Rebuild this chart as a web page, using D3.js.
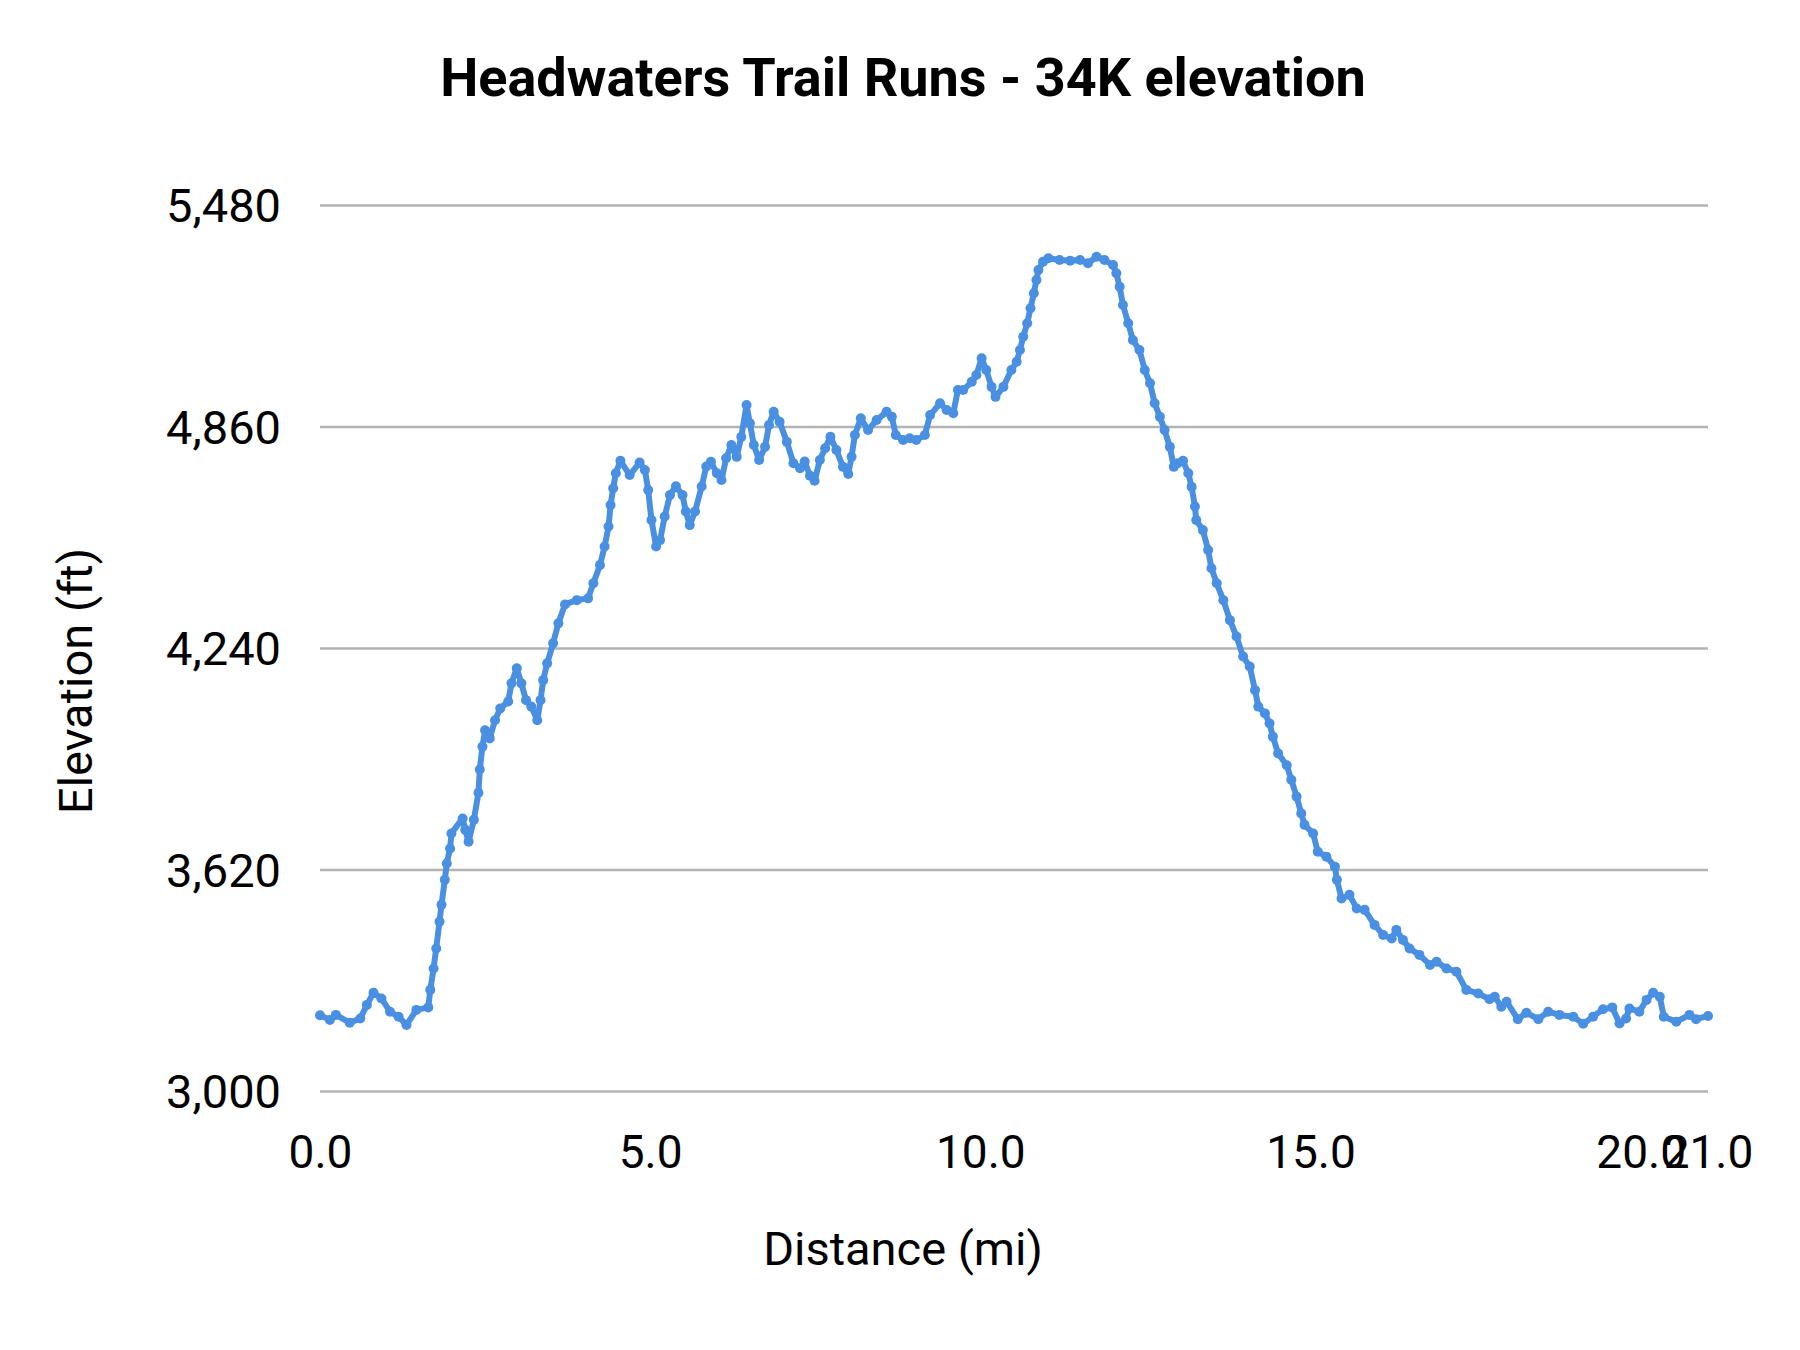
<!DOCTYPE html>
<html>
  <head>
    <meta charset="utf-8">
    <style>
      body { margin: 0; background: #fff; }
      text { font-family: Roboto, "Noto Sans", sans-serif; }
    </style>
  </head>
  <body>
    <div id="my_dataviz"></div>
  </body>
</html>

<script src="https://d3js.org/d3.v7.min.js"></script>

<script>
// distance along the course (mi)
var distances = [
  0.00, 0.15, 0.24, 0.45, 0.61, 0.71, 0.81, 0.93, 1.06, 1.19, 1.31, 1.46, 1.64, 1.67, 1.72, 1.76,
  1.81, 1.84, 1.89, 1.92, 1.97, 1.99, 2.16, 2.20, 2.25, 2.33, 2.40, 2.42, 2.46, 2.50, 2.57, 2.65,
  2.73, 2.85, 2.90, 2.98, 3.05, 3.12, 3.20, 3.29, 3.34, 3.38, 3.44, 3.53, 3.61, 3.71, 3.89, 4.06,
  4.14, 4.24, 4.31, 4.37, 4.40, 4.44, 4.48, 4.55, 4.69, 4.84, 4.92, 4.97, 5.02, 5.09, 5.15, 5.22,
  5.30, 5.39, 5.49, 5.54, 5.60, 5.68, 5.78, 5.85, 5.92, 6.01, 6.08, 6.15, 6.23, 6.31, 6.38, 6.46,
  6.51, 6.57, 6.65, 6.74, 6.80, 6.87, 6.96, 7.07, 7.17, 7.27, 7.34, 7.42, 7.49, 7.57, 7.65, 7.73,
  7.82, 7.92, 8.00, 8.05, 8.10, 8.19, 8.30, 8.43, 8.58, 8.66, 8.72, 8.83, 8.93, 9.03, 9.16, 9.24,
  9.39, 9.49, 9.59, 9.66, 9.74, 9.87, 9.94, 10.02, 10.09, 10.17, 10.23, 10.35, 10.47, 10.55, 10.60, 10.65,
  10.71, 10.76, 10.81, 10.85, 10.88, 10.95, 11.03, 11.20, 11.36, 11.51, 11.63, 11.76, 11.88, 12.01, 12.06, 12.11,
  12.16, 12.24, 12.31, 12.41, 12.49, 12.57, 12.64, 12.72, 12.79, 12.87, 12.93, 12.99, 13.07, 13.15, 13.20, 13.25,
  13.27, 13.37, 13.45, 13.50, 13.58, 13.68, 13.78, 13.88, 13.98, 14.08, 14.16, 14.21, 14.31, 14.38, 14.43, 14.51,
  14.64, 14.71, 14.79, 14.86, 14.91, 15.04, 15.11, 15.24, 15.37, 15.40, 15.47, 15.59, 15.70, 15.82, 15.97, 16.10,
  16.23, 16.30, 16.40, 16.50, 16.65, 16.81, 16.91, 17.06, 17.21, 17.36, 17.54, 17.71, 17.79, 17.89, 17.97, 18.14,
  18.27, 18.45, 18.60, 18.77, 18.98, 19.13, 19.28, 19.43, 19.57, 19.68, 19.78, 19.83, 19.98, 20.09, 20.19, 20.29,
  20.35, 20.54, 20.74, 20.84, 21.02
];

// elevation at each distance (ft)
var elevations = [
  3212, 3199, 3213, 3191, 3203, 3241, 3275, 3259, 3222, 3208, 3185, 3227, 3234, 3283, 3343, 3399,
  3474, 3521, 3591, 3637, 3679, 3721, 3763, 3731, 3698, 3759, 3835, 3900, 3964, 4010, 3987, 4038,
  4071, 4090, 4141, 4183, 4141, 4094, 4076, 4038, 4094, 4150, 4197, 4253, 4309, 4362, 4374, 4379,
  4421, 4472, 4524, 4580, 4640, 4687, 4729, 4764, 4724, 4759, 4738, 4682, 4598, 4524, 4542, 4608,
  4668, 4693, 4668, 4622, 4584, 4622, 4692, 4748, 4761, 4729, 4710, 4771, 4808, 4775, 4831, 4920,
  4869, 4808, 4766, 4803, 4864, 4901, 4873, 4817, 4757, 4743, 4762, 4722, 4708, 4766, 4799, 4831,
  4794, 4747, 4727, 4775, 4836, 4883, 4850, 4878, 4901, 4887, 4836, 4822, 4827, 4822, 4836, 4892,
  4925, 4906, 4897, 4962, 4962, 4985, 5004, 5051, 5018, 4971, 4943, 4971, 5018, 5041, 5074, 5111,
  5149, 5191, 5233, 5270, 5298, 5321, 5331, 5326, 5324, 5326, 5317, 5335, 5326, 5312, 5289, 5251,
  5200, 5149, 5102, 5074, 5018, 4981, 4925, 4887, 4850, 4803, 4747, 4757, 4764, 4729, 4691, 4636,
  4598, 4570, 4514, 4463, 4421, 4374, 4318, 4272, 4216, 4188, 4122, 4076, 4057, 4029, 3992, 3945,
  3912, 3871, 3824, 3777, 3745, 3721, 3670, 3656, 3628, 3591, 3539, 3549, 3511, 3507, 3465, 3437,
  3427, 3451, 3423, 3399, 3381, 3353, 3362, 3343, 3334, 3283, 3273, 3257, 3264, 3236, 3250, 3201,
  3219, 3201, 3222, 3213, 3208, 3188, 3208, 3229, 3234, 3189, 3203, 3231, 3222, 3255, 3275, 3264,
  3208, 3194, 3213, 3201, 3210
];

var xTicks = [0, 5, 10, 15, 20, 21.02];
var yTicks = [3000, 3620, 4240, 4860, 5480];

var chartTitle = "Headwaters Trail Runs - 34K elevation";
var xTitle = "Distance (mi)";
var yTitle = "Elevation (ft)";

// dimensions
var W = 1800, H = 1350;
var margin = {top: 205, right: 92, bottom: 259, left: 320},
    width = W - margin.left - margin.right,
    height = H - margin.top - margin.bottom;

var data = distances.map(function(d, i) { return {mi: d, ft: elevations[i]}; });

var root = d3.select("#my_dataviz")
  .append("svg")
    .attr("width", W)
    .attr("height", H);

root.append("rect").attr("width", W).attr("height", H).attr("fill", "#fff");

var svg = root.append("g")
    .attr("transform", "translate(" + margin.left + "," + margin.top + ")");

var x = d3.scaleLinear()
  .domain([0, 21.02])
  .range([0, width]);

var y = d3.scaleLinear()
  .domain([3000, 5480])
  .range([height, 0]);

// gridlines + y labels
var yAxis = svg.append("g")
  .call(d3.axisLeft(y).tickValues(yTicks).tickSize(-width).tickPadding(39).tickFormat(d3.format(",")));
yAxis.select(".domain").remove();
yAxis.selectAll("line").attr("stroke", "#b3b3b3").attr("stroke-width", 2.5);
yAxis.selectAll("text")
  .attr("fill", "#000")
  .style("font-size", "47px")
  .attr("dy", "0.36em");

// x labels
var xAxis = svg.append("g")
  .attr("transform", "translate(0," + height + ")")
  .call(d3.axisBottom(x).tickValues(xTicks).tickSize(0).tickPadding(44).tickFormat(d3.format(".1f")));
xAxis.select(".domain").remove();
xAxis.selectAll("text")
  .attr("fill", "#000")
  .style("font-size", "46px");

// elevation line
svg.append("path")
  .datum(data)
  .attr("fill", "none")
  .attr("stroke", "#4a90e2")
  .attr("stroke-width", 6)
  .attr("stroke-linejoin", "round")
  .attr("d", d3.line()
    .x(function(d) { return x(d.mi); })
    .y(function(d) { return y(d.ft); }));

svg.selectAll("myDots")
  .data(data)
  .enter()
  .append("circle")
    .attr("cx", function(d) { return x(d.mi); })
    .attr("cy", function(d) { return y(d.ft); })
    .attr("r", 5)
    .attr("fill", "#4a90e2");

// titles
root.append("text")
  .attr("x", 903)
  .attr("y", 96)
  .attr("text-anchor", "middle")
  .style("font-size", "54px")
  .style("font-weight", "bold")
  .text(chartTitle);

root.append("text")
  .attr("x", 903)
  .attr("y", 1265)
  .attr("text-anchor", "middle")
  .style("font-size", "47px")
  .text(xTitle);

root.append("text")
  .attr("transform", "translate(92,681)rotate(-90)")
  .attr("text-anchor", "middle")
  .style("font-size", "47px")
  .text(yTitle);
</script>
